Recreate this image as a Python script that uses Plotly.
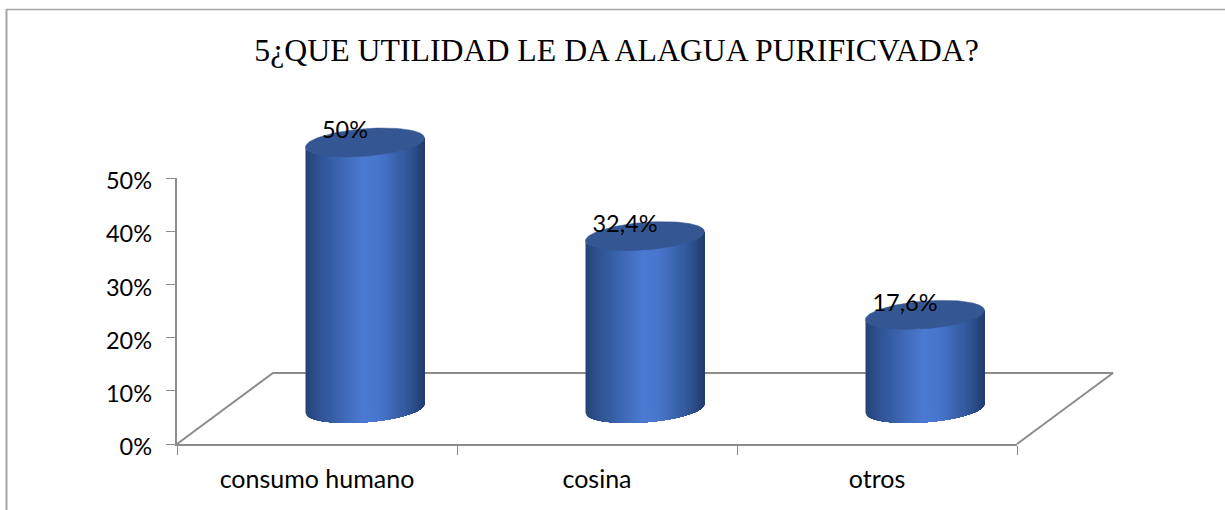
import numpy as np
import plotly.graph_objects as go

title = "5¿QUE UTILIDAD LE DA ALAGUA PURIFICVADA?"
categories = ["consumo humano", "cosina", "otros"]
values = [50, 32.4, 17.6]
value_labels = ["50%", "32,4%", "17,6%"]
y_ticks = [0, 10, 20, 30, 40, 50]
y_tick_labels = ["0%", "10%", "20%", "30%", "40%", "50%"]

W, H = 1225, 510
L, R, T, B = 177, 1017, 178, 444
px_x = 3 / (R - L)          # category units per pixel
px_y = 50 / (B - T)         # percent per pixel
DEPTH_X, DEPTH_Y = 96 * px_x, 71 * px_y
GREY = "#8c8c8c"
LABEL_SHIFT = 3   # px the y tick labels sit below their ticks

A = 59.5 * px_x   # cylinder half width
E_B = 13.8 * px_y # ellipse half height
SHEAR = 4.5 * px_y

stops = [(0.0, (38, 66, 118)), (0.12, (48, 84, 148)), (0.48, (74, 122, 210)),
         (0.62, (72, 118, 204)), (0.88, (48, 84, 148)), (1.0, (34, 60, 108))]


def shade(u):
    rgb = [np.interp(u, [s[0] for s in stops], [s[1][k] for s in stops]) for k in range(3)]
    return "rgb(%d,%d,%d)" % tuple(int(round(c)) for c in rgb)


fig = go.Figure()

# invisible values on the visible axes, so that those subplots exist
fig.add_trace(go.Scatter(x=[0.5, 1.5, 2.5], y=values, mode="markers",
                         marker=dict(opacity=0), hoverinfo="skip", showlegend=False))
fig.add_trace(go.Scatter(x=[0.5, 1.5, 2.5], y=values, mode="markers", yaxis="y3",
                         marker=dict(opacity=0), hoverinfo="skip", showlegend=False))

# floor of the 3D plot, on the full-canvas axes
fig.add_trace(go.Scatter(
    x=[0, DEPTH_X, 3 + DEPTH_X, 3], y=[0, DEPTH_Y, DEPTH_Y, 0], mode="lines",
    xaxis="x2", yaxis="y2", line=dict(color=GREY, width=2),
    hoverinfo="skip", showlegend=False))

N = 100
edges = np.linspace(-1, 1, N + 1)
label_x, label_y = [], []
for i, v in enumerate(values):
    cx = i + 0.5 + DEPTH_X / 2
    base = DEPTH_Y / 2
    top = base + v
    for k in range(N):
        c = edges[k:]
        front = SHEAR * c - E_B * np.sqrt(np.clip(1 - c * c, 0, 1))
        px = np.concatenate([cx + A * c, (cx + A * c)[::-1]])
        py = np.concatenate([base + front, (top + front)[::-1]])
        fig.add_trace(go.Scatter(
            x=px, y=py, mode="lines", fill="toself", fillcolor=shade((k + 0.5) / N),
            xaxis="x2", yaxis="y2", line=dict(width=0),
            hoverinfo="skip", showlegend=False))
    t = np.linspace(0, 2 * np.pi, 120)
    fig.add_trace(go.Scatter(
        x=cx + A * np.cos(t), y=top + SHEAR * np.cos(t) + E_B * np.sin(t),
        mode="lines", fill="toself", fillcolor="#345793", xaxis="x2", yaxis="y2",
        line=dict(color="#345793", width=0.5), hoverinfo="skip", showlegend=False))
    label_x.append(cx - 20 * px_x)
    label_y.append(top + 10 * px_y)

fig.add_trace(go.Scatter(
    x=label_x, y=label_y, text=value_labels, mode="text", textposition="middle center",
    textfont=dict(family="Lato", size=23.5, color="black"), xaxis="x2", yaxis="y2",
    hoverinfo="skip", showlegend=False))

fig.update_layout(
    width=W, height=H, autosize=False, paper_bgcolor="white", plot_bgcolor="rgba(0,0,0,0)",
    margin=dict(l=0, r=0, t=0, b=0, pad=0), showlegend=False,
    title=dict(text=title, x=616.5 / W, xanchor="center", y=1 - 50 / H, yanchor="middle",
               automargin=False,
               font=dict(family="Liberation Serif", size=31.8, color="black")),
    xaxis=dict(domain=[L / W, R / W], range=[0, 3], tickmode="array", automargin=False,
               tickvals=[0.5, 1.5, 2.5], ticktext=categories, ticks="", showgrid=False,
               zeroline=False, showline=True, linecolor=GREY, linewidth=2,
               ticklabelstandoff=12, tickfont=dict(family="Lato", size=25, color="black"),
               minor=dict(tickmode="array", tickvals=[0, 1, 2, 3], ticks="outside",
                          ticklen=9, tickwidth=1.3, tickcolor=GREY, showgrid=False)),
    yaxis=dict(domain=[1 - B / H, 1 - T / H], range=[0, 50], tickmode="array", automargin=False,
               tickvals=y_ticks, ticktext=y_tick_labels, showticklabels=False, ticks="outside",
               ticklen=9, tickwidth=1.3, tickcolor=GREY, showgrid=False, zeroline=False,
               showline=True, linecolor=GREY, linewidth=2),
    yaxis3=dict(domain=[1 - (B + LABEL_SHIFT) / H, 1 - (T + LABEL_SHIFT) / H], range=[0, 50],
                anchor="x", tickmode="array", automargin=False, tickvals=y_ticks,
                ticktext=y_tick_labels, ticks="", ticklen=0, showgrid=False, zeroline=False,
                showline=False, ticklabelstandoff=24,
                tickfont=dict(family="Lato", size=23.5, color="black")),
    xaxis2=dict(domain=[0, 1], range=[-L * px_x, (W - L) * px_x], visible=False,
                anchor="y2", fixedrange=True),
    yaxis2=dict(domain=[0, 1], range=[(B - H) * px_y, B * px_y], visible=False,
                anchor="x2", fixedrange=True),
    shapes=[dict(type="line", xref="paper", yref="paper", x0=6.5 / W, x1=6.5 / W,
                 y0=0, y1=1 - 9 / H, line=dict(color="#a6a6a6", width=2), layer="below"),
            dict(type="line", xref="paper", yref="paper", x0=6 / W, x1=1,
                 y0=1 - 9.5 / H, y1=1 - 9.5 / H, line=dict(color="#a6a6a6", width=1.6), layer="below")],
)

fig.write_html("out.html", config={"displayModeBar": False},
               post_script="document.body.style.margin='0';document.documentElement.style.overflow='hidden';")
